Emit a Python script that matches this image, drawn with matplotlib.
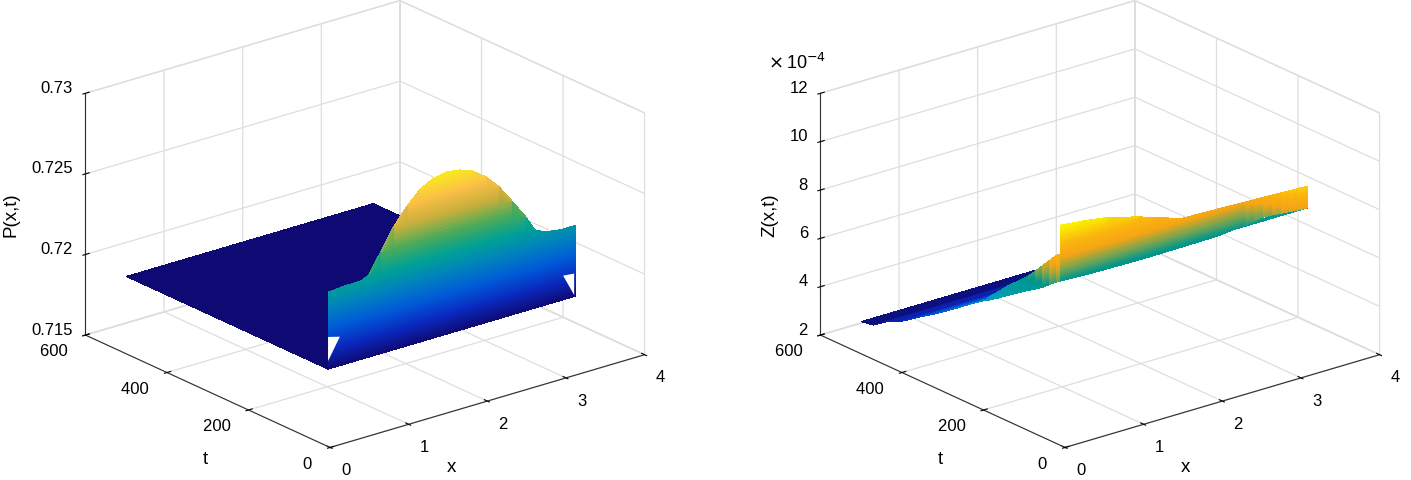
import numpy as np
import matplotlib
matplotlib.use('Agg')
import matplotlib.pyplot as plt
from matplotlib.colors import LinearSegmentedColormap
from mpl_toolkits.mplot3d.art3d import Poly3DCollection

plt.rcParams['font.family'] = ['Liberation Sans', 'DejaVu Sans']
plt.rcParams['font.size'] = 12

# P(x,t): start profile, flat part, gaps in the mesh
p_x = [0.0, 0.20, 0.415, 0.515, 0.666, 0.829, 1.005, 1.169, 1.332, 1.508,
       1.671, 1.835, 2.011, 2.174, 2.337, 2.513, 2.639, 2.802, 2.966, 3.142]
p_start = [0.72457, 0.72466, 0.72467, 0.7249, 0.7261, 0.72742, 0.72848, 0.72929, 0.72969, 0.72987,
           0.72976, 0.72947, 0.72884, 0.728, 0.72689, 0.72565, 0.7246, 0.72431, 0.7242, 0.7242]
p_flat = 0.7198
p_t = [5, 500]
p_gaps = [[(0.0, 5, 0.7218), (0.15, 5, 0.7216), (0.0, 5, 0.7203)],
          [(2.99, 5, 0.7213), (3.13, 5, 0.72123), (3.13, 5, 0.7199)]]

# Z(x,t), in units of 1e-4
z_t = [500, 470, 440, 404, 380, 355, 315, 274, 235, 197, 159, 110, 60, 12]
z_decay = [3.33, 3.42, 3.78, 4.08, 4.35, 4.65, 5.1, 5.6, 6.1, 6.55, 7.0, 7.65, 8.25, 8.8]
z_edge_t = [191, 165, 140, 115, 90, 72, 55, 38, 20, 12]
z_edge_low = [6.6, 6.9, 7.2, 7.5, 7.8, 8.0, 8.2, 8.45, 8.7, 8.8]
z_edge_high = [6.7, 7.15, 7.6, 8.0, 8.4, 8.75, 9.1, 9.45, 9.8, 9.9]
z_x = [0.0, 0.29, 0.59, 1.0, 1.17, 1.545, 2.0, 2.35, 2.46, 2.575, 2.69, 2.8, 2.91, 3.03, 3.142]
z_start = [11.1, 11.0, 10.85, 10.49, 10.3, 9.9, 9.85, 9.8, 9.79, 9.78, 9.76, 9.75, 9.73, 9.72, 9.7]
z_front = [8.79, 8.74, 8.72, 8.7, 8.7, 8.71, 8.73, 8.85, 8.9, 8.96, 8.94, 8.9, 8.87, 8.83, 8.8]
z_shift = [0, 0, 0, 0, 0, 0, 0, 0.1, 0.2, 0.35, 0.5, 0.7, 0.8, 0.9, 0.95]

x_ticks = [0, 1, 2, 3, 4]
t_ticks = [0, 200, 400, 600]
t_labels = ['0  ', '200  ', '400  ', '600  ']

parula_stops = [(0.0, (15, 10, 115)), (0.12, (10, 40, 190)), (0.25, (0, 90, 215)),
                (0.38, (0, 130, 190)), (0.5, (0, 160, 150)), (0.62, (70, 170, 90)),
                (0.75, (200, 175, 60)), (0.87, (250, 190, 70)), (1.0, (250, 235, 30))]
z_stops = [(0.0, (15, 10, 115)), (0.12, (10, 40, 190)), (0.3, (0, 110, 220)),
           (0.48, (0, 160, 190)), (0.71, (0, 150, 140)), (0.77, (120, 165, 80)),
           (0.835, (245, 165, 20)), (0.9, (250, 180, 15)), (1.0, (250, 245, 0))]


def make_cmap(stops):
    return LinearSegmentedColormap.from_list('m', [(a, tuple(v / 255 for v in c)) for a, c in stops])


def sheet(ax, xx, tt, zz, cmap, low, high, shift=0):
    c = (zz - low) / (high - low)
    cc = c.copy()
    cc[:-1, :-1] = (c[:-1, :-1] + c[1:, :-1] + c[:-1, 1:] + c[1:, 1:]) / 4
    cc = cc + shift / (high - low)
    ax.plot_surface(xx, tt, zz, facecolors=cmap(cc), rstride=1, cstride=1, shade=False,
                    linewidth=0, antialiased=False)


def setup(ax, zticks, zlabels, zlim):
    ax.set_proj_type('ortho')
    ax.view_init(elev=21.6, azim=-128.7)
    ax.set_box_aspect((1.03, 1, 0.6645), zoom=1.2525)
    ax.set_xlim(0, 4)
    ax.set_ylim(0, 600)
    ax.set_zlim(*zlim)
    ax.set_xticks(x_ticks)
    ax.set_yticks(t_ticks)
    ax.set_yticklabels(t_labels, ha='right')
    ax.set_zticks(zticks)
    ax.set_zticklabels(zlabels, ha='right', va='baseline')
    ax.set_xticklabels([str(v) for v in x_ticks], ha='left')
    ax.tick_params(axis='x', pad=0)
    ax.tick_params(axis='y', pad=-3)
    ax.tick_params(axis='z', pad=-4)
    for a in (ax.xaxis, ax.yaxis, ax.zaxis):
        a.set_pane_color((1, 1, 1, 1))
        a.pane.set_edgecolor('#dedede')
        a._axinfo['grid'].update(color='#dedede', linewidth=0.9)
        a._axinfo['tick'].update(inward_factor=0.1, outward_factor=0.15)
        a.line.set_color('#303030')
        a.line.set_linewidth(0.8)


def label(px, py, text, rotation=0):
    fig.text(px / 1411, 1 - py / 480, text, ha='center', va='center', rotation=rotation, fontsize=13.5)


fig = plt.figure(figsize=(14.11, 4.8), dpi=100)
ax1 = fig.add_axes([0.0841, 0.0198, 0.34, 1.0], projection='3d', computed_zorder=False)
ax2 = fig.add_axes([0.6050, 0.0198, 0.34, 1.0], projection='3d', computed_zorder=False)

setup(ax1, [0.715, 0.72, 0.725, 0.73], ['0.715', '0.72', '0.725', '0.73'], (0.715, 0.73))
setup(ax2, [2e-4, 4e-4, 6e-4, 8e-4, 10e-4, 12e-4], ['2', '4', '6', '8', '10', '12'], (2e-4, 12e-4))

cmap1 = make_cmap(parula_stops)
cmap2 = make_cmap(z_stops)

# panel 1
xx, tt = np.meshgrid([0, 3.142], p_t)
ax1.plot_surface(xx, tt, np.full(xx.shape, p_flat), color=cmap1(0.0), shade=False, linewidth=0, antialiased=False)
levels = np.linspace(p_flat, max(p_start), 50)
xx, tt = np.meshgrid(p_x, np.full(levels.size, p_t[0]))
zz = np.array([np.clip(lv, p_flat, p_start) for lv in levels])
sheet(ax1, xx, tt, zz, cmap1, p_flat, max(p_start))
ax1.add_collection3d(Poly3DCollection(p_gaps, facecolors='white', edgecolors='none'))

# panel 2
sc = 1e-4
low, high = 3.2, 11.1
xx, tt = np.meshgrid([0, 3.142], z_t)
zz = np.column_stack([z_decay, z_decay]) * sc
sheet(ax2, xx, tt, zz, cmap2, low * sc, high * sc)
n = 12
zz = np.linspace(z_edge_low, z_edge_high, n) * sc
tt = np.tile(z_edge_t, (n, 1))
sheet(ax2, np.zeros(zz.shape), tt, zz, cmap2, low * sc, high * sc, shift=0.4 * sc)
levels = np.linspace(min(z_front), max(z_start), 50)
xx, tt = np.meshgrid(z_x, np.full(levels.size, z_t[-1]))
zz = np.array([np.clip(lv, z_front, z_start) for lv in levels]) * sc
sheet(ax2, xx, tt, zz, cmap2, low * sc, high * sc, shift=np.array(z_shift) * sc)

label(11, 215, 'P(x,t)', rotation=90)
label(205, 460, 't')
label(451, 468, 'x')
label(770, 215, 'Z(x,t)', rotation=90)
label(940, 460, 't')
label(1185, 468, 'x')
fig.text(768 / 1411, 1 - 63 / 480, r'$\times\,$10$^{-4}$', fontsize=13, va='center')

fig.savefig('out.png', dpi=100)
